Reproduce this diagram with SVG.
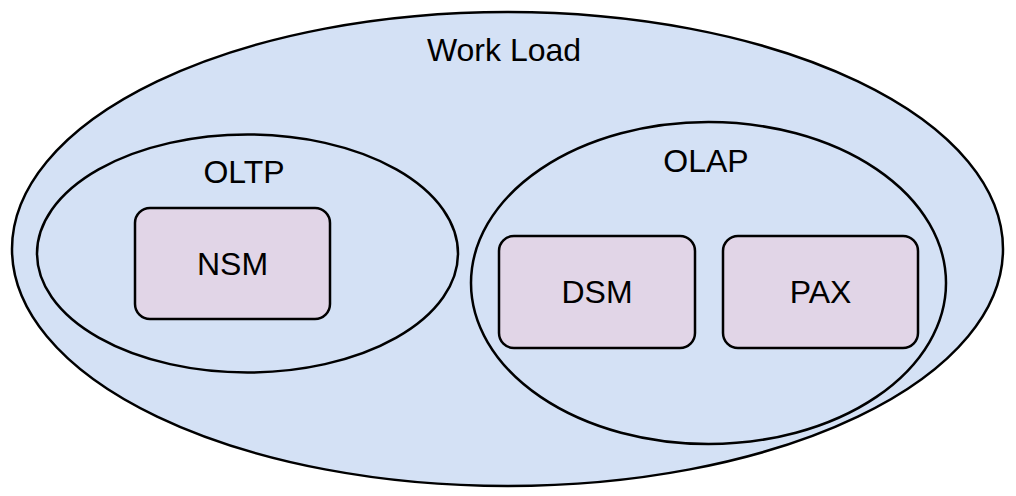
<svg xmlns="http://www.w3.org/2000/svg" width="1016" height="496" viewBox="0 0 1016 496">
<style>
.ell{fill:#D4E1F5;stroke:#000;stroke-width:2.5}
.box{fill:#E1D5E7;stroke:#000;stroke-width:2.5}
.lbl{font-family:"Liberation Sans",Arial,sans-serif;font-size:32px;fill:#000;text-anchor:middle}
</style>
<rect width="1016" height="496" fill="#fff"/>
<g id="workload">
<ellipse class="ell" cx="507.5" cy="249" rx="495.5" ry="237"/>
<text class="lbl" x="504" y="61">Work Load</text>
</g>
<g id="oltp">
<ellipse class="ell" cx="247.5" cy="253.5" rx="210.5" ry="119"/>
<text class="lbl" x="244" y="183">OLTP</text>
</g>
<g id="olap">
<ellipse class="ell" cx="708.5" cy="283" rx="237.5" ry="161"/>
<text class="lbl" x="706" y="172">OLAP</text>
</g>
<g id="nsm">
<rect class="box" x="135" y="208" width="195" height="111" rx="15"/>
<text class="lbl" x="232.5" y="275">NSM</text>
</g>
<g id="dsm">
<rect class="box" x="499" y="236" width="196" height="112" rx="15"/>
<text class="lbl" x="597" y="303">DSM</text>
</g>
<g id="pax">
<rect class="box" x="723" y="236" width="195" height="112" rx="15"/>
<text class="lbl" x="820.5" y="303">PAX</text>
</g>
<g id="connectors"/>
</svg>
